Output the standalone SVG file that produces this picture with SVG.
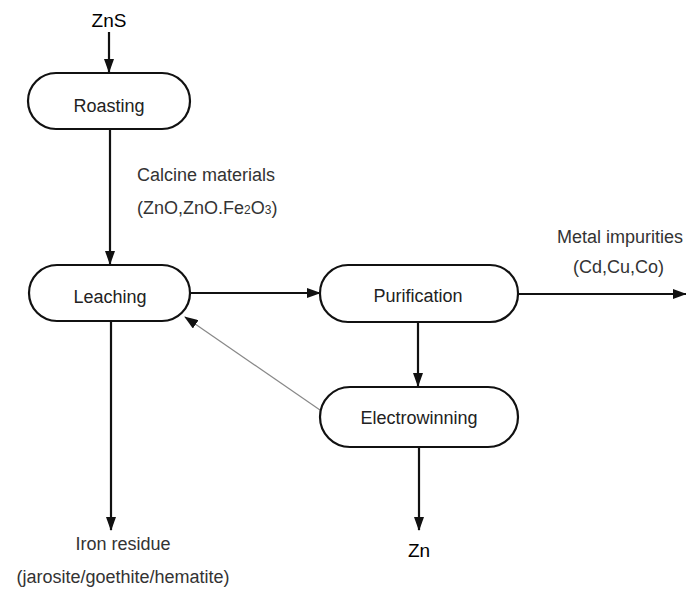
<svg xmlns="http://www.w3.org/2000/svg" width="686" height="589" viewBox="0 0 686 589">
<defs>
<style>
.box{fill:#fff;stroke:#111;stroke-width:2.2}
.ln{stroke:#111;stroke-width:2.2;fill:none}
.fb{stroke:#888;stroke-width:1.2;fill:none}
.t{font-family:"Liberation Sans",Arial,sans-serif;font-size:18px;fill:#222}
.lab{font-family:"Liberation Sans",Arial,sans-serif;font-size:18px;fill:#333}
.big{font-family:"Liberation Sans",Arial,sans-serif;font-size:19px;fill:#000}
</style>
<marker id="ah" markerWidth="14" markerHeight="10" refX="13" refY="5" orient="auto" markerUnits="userSpaceOnUse">
<path d="M0,0 L14,5 L0,10 Z" fill="#111"/>
</marker>
<marker id="ahs" markerWidth="14" markerHeight="10" refX="13" refY="5" orient="auto" markerUnits="userSpaceOnUse">
<path d="M0,0 L14,5 L0,10 Z" fill="#111"/>
</marker>
</defs>
<rect width="686" height="589" fill="#fff"/>
<g id="connectors">
<line class="ln" x1="109" y1="32" x2="109" y2="72" marker-end="url(#ah)"/>
<line class="ln" x1="110" y1="129" x2="110" y2="264" marker-end="url(#ah)"/>
<line class="ln" x1="190" y1="293" x2="320" y2="293" marker-end="url(#ah)"/>
<line class="ln" x1="518" y1="294" x2="686" y2="294" marker-end="url(#ah)"/>
<line class="ln" x1="418" y1="322" x2="418" y2="386" marker-end="url(#ah)"/>
<line class="ln" x1="419" y1="447" x2="419" y2="530" marker-end="url(#ah)"/>
<line class="ln" x1="111" y1="321" x2="111" y2="530" marker-end="url(#ah)"/>
<line class="fb" x1="320" y1="410" x2="185" y2="317" marker-end="url(#ahs)"/>
</g>
<g id="zns"><text class="big" x="109" y="27" text-anchor="middle">ZnS</text></g>
<g id="roasting">
<rect class="box" x="28" y="73" width="162" height="56" rx="28"/>
<text class="t" x="109" y="112" text-anchor="middle">Roasting</text>
</g>
<g id="calcine">
<text class="lab" x="137" y="181">Calcine materials</text>
<text class="lab" x="137" y="214">(ZnO,ZnO.Fe<tspan font-size="12" dy="0">2</tspan>O<tspan font-size="12">3</tspan>)</text>
</g>
<g id="leaching">
<rect class="box" x="29" y="265" width="161" height="56" rx="28"/>
<text class="t" x="110" y="303" text-anchor="middle">Leaching</text>
</g>
<g id="purification">
<rect class="box" x="320" y="265" width="198" height="57" rx="28"/>
<text class="t" x="418" y="302" text-anchor="middle">Purification</text>
</g>
<g id="metal">
<text class="lab" x="557" y="243">Metal impurities</text>
<text class="lab" x="573" y="273">(Cd,Cu,Co)</text>
</g>
<g id="electrowinning">
<rect class="box" x="320" y="387" width="198" height="60" rx="30"/>
<text class="t" x="419" y="424" text-anchor="middle">Electrowinning</text>
</g>
<g id="zn"><text class="big" x="419" y="557" text-anchor="middle">Zn</text></g>
<g id="iron">
<text class="lab" x="123" y="550" text-anchor="middle" fill="#111">Iron residue</text>
<text class="lab" x="123" y="583" text-anchor="middle">(jarosite/goethite/hematite)</text>
</g>
</svg>
